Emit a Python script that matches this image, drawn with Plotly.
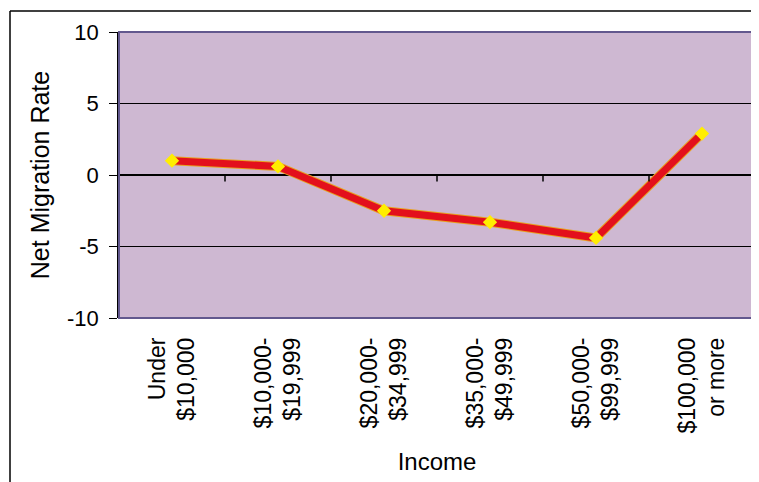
import plotly.graph_objects as go

categories = ["Under<br>$10,000", "$10,000-<br>$19,999", "$20,000-<br>$34,999",
              "$35,000-<br>$49,999", "$50,000-<br>$99,999", "$100,000<br>or more"]
net_migration = [1.0, 0.6, -2.5, -3.3, -4.4, 2.9]
y_ticks = [-10, -5, 0, 5, 10]
y_tick_text = ["-10", "-5", "0", "5", "10"]

OFF = 8  # page body margin
W, H = 759 - OFF, 482 - OFF
L, R, T, B = 119 - OFF, 4, 32 - OFF, 164
pw, ph = W - L - R, H - T - B


def px_x(p):
    return (p - OFF - L) / pw


def px_y(p):
    return (H - B - (p - OFF)) / ph


fig = go.Figure()
fig.add_trace(go.Scatter(x=categories, y=net_migration, mode="lines",
                         line=dict(color="#e8a020", width=9), hoverinfo="skip",
                         showlegend=False))
fig.add_trace(go.Scatter(x=categories, y=net_migration, mode="lines+markers",
                         line=dict(color="#e3101c", width=7),
                         marker=dict(symbol="diamond", size=11, color="#ffee00",
                                     line=dict(width=0)),
                         showlegend=False))

shapes = []
for i in range(len(categories) - 1):
    shapes.append(dict(type="line", xref="x", yref="y", x0=i + 0.5, x1=i + 0.5,
                       y0=0, y1=-0.45, line=dict(color="black", width=1.5)))
shapes.append(dict(type="rect", xref="paper", yref="paper", x0=0, x1=1, y0=0, y1=1,
                   line=dict(color="#62588e", width=2), layer="above"))
shapes.append(dict(type="line", xref="paper", yref="paper", x0=px_x(10), x1=px_x(760),
                   y0=px_y(11), y1=px_y(11), line=dict(color="black", width=1.5)))
shapes.append(dict(type="line", xref="paper", yref="paper", x0=px_x(10), x1=px_x(10),
                   y0=px_y(11), y1=px_y(483), line=dict(color="black", width=1.5)))

fig.update_layout(
    width=W, height=H,
    margin=dict(l=L, r=R, t=T, b=B),
    paper_bgcolor="white",
    plot_bgcolor="#ceb8d2",
    font=dict(family="Liberation Sans, Arial, sans-serif", color="black", size=22),
    shapes=shapes,
    xaxis=dict(type="category", tickangle=-90, showgrid=False, zeroline=False,
               showline=False, ticks="", tickfont=dict(size=23),
               ticklabelstandoff=14,
               range=[-0.5, len(categories) - 0.5],
               title=dict(text="Income", font=dict(size=24), standoff=20)),
    yaxis=dict(range=[-10, 10], tickvals=y_ticks, ticktext=y_tick_text,
               showgrid=True, gridcolor="black",
               gridwidth=1.2, zeroline=True, zerolinecolor="black", zerolinewidth=1.5,
               showline=True, linecolor="black", linewidth=1.5, ticks="outside",
               ticklen=8, tickcolor="black", tickfont=dict(size=22),
               ticklabelstandoff=6,
               title=dict(text="Net Migration Rate", font=dict(size=25), standoff=10)),
)

fig.write_html("out.html")
